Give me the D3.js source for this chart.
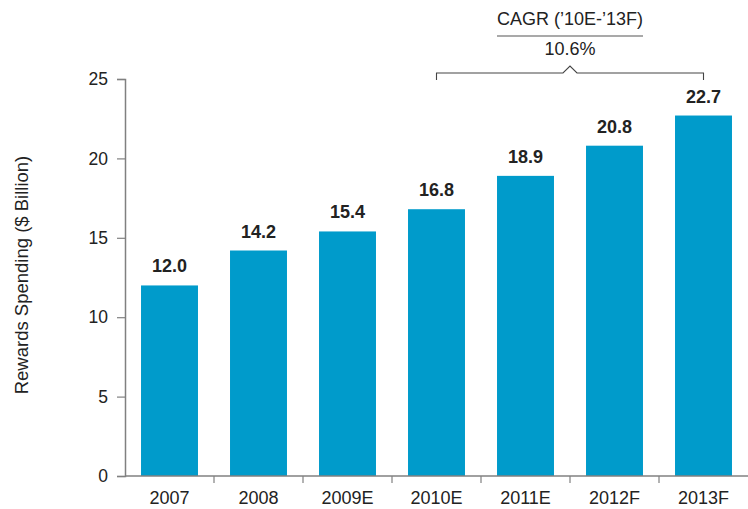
<!DOCTYPE html>
<html>
<head>
<meta charset="utf-8">
<script src="https://cdn.jsdelivr.net/npm/d3@7/dist/d3.min.js"></script>
<style>
  html, body { margin: 0; padding: 0; background: #fff; }
  svg { display: block; font-family: "Liberation Sans", Arial, Helvetica, sans-serif; }
</style>
</head>
<body>
<svg id="chart" width="748" height="509"></svg>
<script>
// Rewards spending by year, $ billion
const years = ["2007", "2008", "2009E", "2010E", "2011E", "2012F", "2013F"];
const spending = [12.0, 14.2, 15.4, 16.8, 18.9, 20.8, 22.7];
const yTicks = [0, 5, 10, 15, 20, 25];
const cagrTitle = "CAGR (\u201910E-\u201913F)";
const cagrValue = "10.6%";
const cagrFrom = "2010E";
const cagrTo = "2013F";

const svg = d3.select("#chart");
const plotLeft = 125, plotRight = 748, plotTop = 79, plotBottom = 476;
const barColor = "#009bcb";
const axisColor = "#808080";
const textColor = "#222";
const fontFamily = "Liberation Sans, Arial, sans-serif";

const x = d3.scaleBand().domain(years).range([plotLeft, plotRight]).paddingInner(0.36).paddingOuter(0.18);
const y = d3.scaleLinear().domain([0, 25]).range([plotBottom, plotTop]);

// bars
svg.append("g").selectAll("rect").data(years).join("rect")
  .attr("x", d => x(d))
  .attr("y", (d, i) => y(spending[i]))
  .attr("width", x.bandwidth())
  .attr("height", (d, i) => y(0) - y(spending[i]))
  .attr("fill", barColor);

// value labels
svg.append("g").selectAll("text").data(years).join("text")
  .attr("x", d => x(d) + x.bandwidth() / 2)
  .attr("y", (d, i) => y(spending[i]) - 13)
  .attr("text-anchor", "middle")
  .attr("font-size", 18)
  .attr("font-weight", "bold")
  .attr("fill", textColor)
  .text((d, i) => spending[i].toFixed(1));

// y axis
const yAxis = svg.append("g").attr("transform", `translate(${plotLeft},0)`)
  .call(d3.axisLeft(y).tickValues(yTicks).tickSize(8).tickPadding(9));
yAxis.select(".domain").attr("stroke", axisColor).attr("stroke-width", 1.5);
yAxis.selectAll(".tick line").attr("stroke", axisColor).attr("stroke-width", 1.2);
yAxis.selectAll(".tick text").attr("font-size", 17.5).attr("fill", textColor)
  .attr("font-family", fontFamily);

// x axis with ticks between categories
const step = x.step();
const boundaries = d3.range(years.length).map(i => plotLeft + i * step);
svg.append("line")
  .attr("x1", plotLeft).attr("x2", plotRight).attr("y1", plotBottom).attr("y2", plotBottom)
  .attr("stroke", axisColor).attr("stroke-width", 1.5);
svg.append("g").selectAll("line").data(boundaries.slice(1)).join("line")
  .attr("x1", d => d).attr("x2", d => d)
  .attr("y1", plotBottom).attr("y2", plotBottom + 7)
  .attr("stroke", axisColor).attr("stroke-width", 1.2);
svg.append("g").selectAll("text").data(years).join("text")
  .attr("x", d => x(d) + x.bandwidth() / 2)
  .attr("y", 503.5)
  .attr("text-anchor", "middle")
  .attr("font-size", 18)
  .attr("fill", textColor)
  .text(d => d);

// y axis title
svg.append("text")
  .attr("transform", `translate(28,275) rotate(-90)`)
  .attr("text-anchor", "middle")
  .attr("font-size", 18.5)
  .attr("fill", textColor)
  .text("Rewards Spending ($ Billion)");

// CAGR bracket between the two bar centers
const bx1 = x(cagrFrom) + x.bandwidth() / 2;
const bx2 = x(cagrTo) + x.bandwidth() / 2;
const bmid = (bx1 + bx2) / 2;
const by = 73;
svg.append("path")
  .attr("d", `M${bx1},${by + 7}V${by}H${bmid - 7}L${bmid},${by - 7}L${bmid + 7},${by}H${bx2}V${by + 7}`)
  .attr("fill", "none").attr("stroke", "#444").attr("stroke-width", 1.1);

svg.append("text")
  .attr("x", bmid).attr("y", 25)
  .attr("text-anchor", "middle")
  .attr("font-size", 18)
  .attr("fill", textColor)
  .text(cagrTitle);
svg.append("line")
  .attr("x1", bmid - 73).attr("x2", bmid + 73)
  .attr("y1", 36).attr("y2", 36)
  .attr("stroke", "#555").attr("stroke-width", 1.2);
svg.append("text")
  .attr("x", bmid).attr("y", 55)
  .attr("text-anchor", "middle")
  .attr("font-size", 18)
  .attr("fill", textColor)
  .text(cagrValue);
</script>
</body>
</html>
